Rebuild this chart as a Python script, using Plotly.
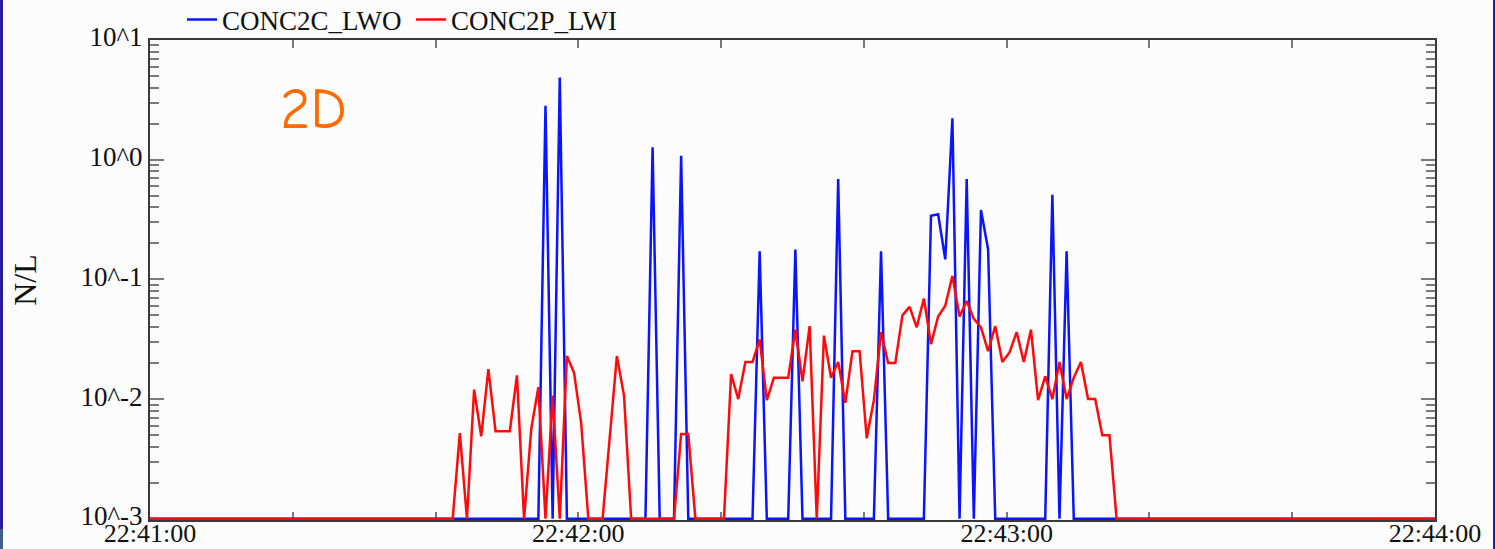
import plotly.graph_objects as go
import pandas as pd

# ---------------- data ----------------
Z = 1e-3  # zero readings sit on the 10^-3 floor of the log axis
record_start = "2000-01-01 22:41:00"
record_end = "2000-01-01 22:44:00"
first_sample = "2000-01-01 22:41:42.4"   # 1 Hz samples from here on

# CONC2C_LWO  (N/L), 1 Hz, starting at first_sample
conc2c_lwo = [
    Z, Z, Z, Z, Z, Z, Z, Z, Z, Z,
    Z, Z, Z, 2.82, Z, 4.85, Z, Z, Z, Z,
    Z, Z, Z, Z, Z, Z, Z, Z, 1.27, Z,
    Z, Z, 1.08, Z, Z, Z, Z, Z, Z, Z,
    Z, Z, Z, 0.172, Z, Z, Z, Z, 0.178, Z,
    Z, Z, Z, Z, 0.69, Z, Z, Z, Z, Z,
    0.172, Z, Z, Z, Z, Z, Z, 0.34, 0.35, 0.147,
    2.22, Z, 0.69, Z, 0.38, 0.178, Z, Z, Z, Z,
    Z, Z, Z, Z, 0.51, Z, 0.172, Z, Z, Z,
    Z, Z, Z, Z,
]

# CONC2P_LWI  (N/L), same samples
conc2p_lwi = [
    Z, 0.0052, Z, 0.012, 0.0049, 0.0178, 0.0054, 0.0054, 0.0054, 0.0158,
    Z, 0.0056, 0.0126, Z, 0.0107, Z, 0.0229, 0.0166, 0.0063, Z,
    Z, Z, 0.0048, 0.0229, 0.0107, Z, Z, Z, Z, Z,
    Z, Z, 0.0051, 0.0051, Z, Z, Z, Z, Z, 0.0162,
    0.0100, 0.0204, 0.0204, 0.0316, 0.0098, 0.0151, 0.0151, 0.0151, 0.038, 0.0141,
    0.0407, Z, 0.0339, 0.0151, 0.0204, 0.0093, 0.0251, 0.0251, 0.0047, 0.0098,
    0.0363, 0.020, 0.020, 0.0501, 0.0589, 0.0398, 0.0692, 0.0288, 0.049, 0.0603,
    0.107, 0.049, 0.066, 0.0468, 0.0398, 0.0251, 0.0407, 0.0204, 0.0245, 0.0363,
    0.0204, 0.038, 0.0098, 0.0155, 0.010, 0.0204, 0.010, 0.0151, 0.0204, 0.010,
    0.010, 0.005, 0.005, Z,
]

y_tick_vals = [1e-3, 1e-2, 1e-1, 1e0, 1e1]
y_tick_text = ["10^-3", "10^-2", "10^-1", "10^0", "10^1"]
x_tick_vals = ["2000-01-01 22:41:00", "2000-01-01 22:42:00",
               "2000-01-01 22:43:00", "2000-01-01 22:44:00"]
x_tick_text = ["22:41:00", "22:42:00", "22:43:00", "22:44:00"]

# ---------------- build ----------------
sample_times = pd.date_range(first_sample, periods=len(conc2c_lwo), freq="1s")
x_all = [pd.Timestamp(record_start)] + list(sample_times) + [pd.Timestamp(record_end)]
blue_all = [Z] + conc2c_lwo + [Z]
red_all = [Z] + conc2p_lwi + [Z]

y_minor = [m * 10.0 ** k for k in range(-3, 1) for m in range(2, 10)]

FONT = "Liberation Serif, Times New Roman, serif"
AXC = "#3a3a3a"
TKC = "#7a7a7a"

fig = go.Figure()
fig.add_trace(go.Scatter(x=x_all, y=blue_all, mode="lines", name="CONC2C_LWO",
                         line=dict(color="#0a14ff", width=2.5)))
fig.add_trace(go.Scatter(x=x_all, y=red_all, mode="lines", name="CONC2P_LWI",
                         line=dict(color="#ff0a0a", width=2.5)))

W, H = 1495, 549
L, R, T, B = 150, 60, 40, 29
pw, ph = W - L - R, H - T - B

def px(xp):
    return (xp - L) / pw

def py(yp):
    return 1 - (yp - T) / ph

fig.update_layout(
    width=W, height=H,
    margin=dict(l=L, r=R, t=T, b=B, pad=0, autoexpand=False),
    paper_bgcolor="#fcfcfc", plot_bgcolor="#fcfcfc",
    font=dict(family=FONT, size=27, color="#111111"),
    showlegend=True,
    legend=dict(orientation="h", x=px(182), xanchor="left", y=py(20), yanchor="middle",
                bgcolor="rgba(0,0,0,0)", font=dict(size=27), entrywidth=184,
                itemwidth=30, traceorder="normal"),
    xaxis=dict(
        type="date", range=[record_start, record_end], automargin=False,
        tickmode="array", tickvals=x_tick_vals, ticktext=x_tick_text,
        ticks="inside", ticklen=8, tickwidth=1.5, tickcolor=TKC,
        ticklabelstandoff=-11,
        minor=dict(dtick=20000, tick0=record_start, ticks="inside", ticklen=8,
                   tickwidth=1.5, tickcolor=TKC, showgrid=False),
        showline=True, linecolor=AXC, linewidth=2, mirror="ticks",
        showgrid=False, zeroline=False, layer="below traces",
        tickfont=dict(size=26),
    ),
    yaxis=dict(
        type="log", range=[-3.01, 1], automargin=False,
        tickmode="array", tickvals=y_tick_vals, ticktext=y_tick_text,
        ticks="inside", ticklen=14, tickwidth=1.5, tickcolor=TKC,
        ticklabelshift=-3,
        minor=dict(tickmode="array", tickvals=y_minor, ticks="inside", ticklen=9,
                   tickwidth=1.5, tickcolor=TKC, showgrid=False),
        showline=True, linecolor=AXC, linewidth=2, mirror="ticks",
        showgrid=False, zeroline=False, layer="below traces",
        title=dict(text="N/L", font=dict(size=32), standoff=34),
        tickfont=dict(size=27),
    ),
    annotations=[
        dict(text="2D", xref="paper", yref="paper", x=px(313), y=py(109),
             xanchor="center", yanchor="middle", showarrow=False,
             font=dict(family="Comic Sans MS, Comic Neue, DejaVu Sans", size=58,
                       color="#ff6a00")),
    ],
    shapes=[
        dict(type="rect", xref="paper", yref="paper", x0=px(0), x1=px(3),
             y0=py(529), y1=py(0), fillcolor="#2a1a9c", line=dict(width=0), layer="above"),
        dict(type="rect", xref="paper", yref="paper", x0=px(0), x1=px(3),
             y0=py(549), y1=py(529), fillcolor="#3f5f8c", line=dict(width=0), layer="above"),
        dict(type="rect", xref="paper", yref="paper", x0=px(1493), x1=px(1495),
             y0=py(549), y1=py(0), fillcolor="#2a1a9c", line=dict(width=0), layer="above"),
    ],
)

fig.write_html("out.html")
